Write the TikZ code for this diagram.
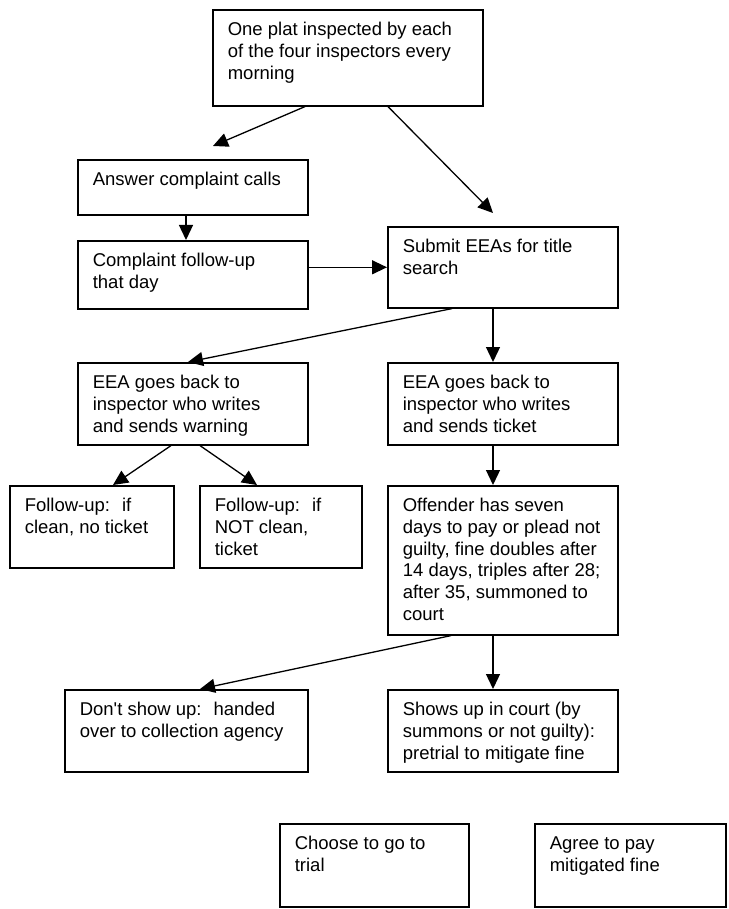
\documentclass[tikz,border=0pt]{standalone}
\usepackage{fontspec}
\setmainfont{Liberation Sans}
\usetikzlibrary{arrows.meta}
\newcommand{\flowtext}[3]{\parbox[t][#2pt][t]{#1pt}{\leftskip=15pt\rightskip=0pt plus 1fil\parindent=0pt\rule{0pt}{26pt}#3}}
\tikzset{
  flowbox/.style={draw, line width=1.6pt, anchor=north west, inner sep=0pt, font=\fontsize{18.5pt}{21.7pt}\selectfont},
  flowarrow/.style={line width=1.3pt, -{Triangle[length=15pt,width=14pt]}}
}
\begin{document}
\begin{tikzpicture}[x=1pt,y=-1pt]
\useasboundingbox (0,0) rectangle (728,909);
\node[flowbox] (plat) at (212,9) {\flowtext{270}{96}{One plat inspected by each\\of the four inspectors every\\morning}};
\node[flowbox] (calls) at (77,159) {\flowtext{230}{55}{Answer complaint calls}};
\node[flowbox] (followup) at (77,240) {\flowtext{230}{68}{Complaint follow-up\\that day}};
\node[flowbox] (submit) at (387,226) {\flowtext{230}{81}{Submit EEAs for title\\search}};
\node[flowbox] (warning) at (77,362) {\flowtext{230}{82}{EEA goes back to\\inspector who writes\\and sends warning}};
\node[flowbox] (ticket) at (387,362) {\flowtext{230}{82}{EEA goes back to\\inspector who writes\\and sends ticket}};
\node[flowbox] (clean) at (9,485) {\flowtext{164}{82}{Follow-up:~ if\\clean, no ticket}};
\node[flowbox] (notclean) at (199,485) {\flowtext{162}{82}{Follow-up:~ if\\NOT clean,\\ticket}};
\node[flowbox] (offender) at (387,485) {\flowtext{230}{149}{Offender has seven\\days to pay or plead not\\guilty, fine doubles after\\14 days, triples after 28;\\after 35, summoned to\\court}};
\node[flowbox] (noshow) at (64,689) {\flowtext{243}{82}{Don\textquotesingle t show up:~ handed\\over to collection agency}};
\node[flowbox] (court) at (387,689) {\flowtext{230}{82}{Shows up in court (by\\summons or not guilty):\\pretrial to mitigate fine}};
\node[flowbox] (trial) at (279,823) {\flowtext{189}{83}{Choose to go to\\trial}};
\node[flowbox] (pay) at (534,823) {\flowtext{191}{83}{Agree to pay\\mitigated fine}};
\coordinate (callsin) at (213,146);
\coordinate (submitin) at (493,213);
\draw[flowarrow] ([xshift=93pt]plat.south west) -- (callsin);
\draw[flowarrow] ([xshift=176pt]plat.south west) -- (submitin);
\draw[flowarrow] ([xshift=109pt]calls.south west) -- ([xshift=109pt]followup.north west);
\draw[flowarrow] (followup.east |- submit.west) -- (submit.west);
\draw[flowarrow] ([xshift=65pt]submit.south west) -- ([xshift=111pt]warning.north west);
\draw[flowarrow] ([xshift=106pt]submit.south west) -- ([xshift=106pt]ticket.north west);
\draw[flowarrow] ([xshift=94pt]warning.south west) -- ([xshift=104pt]clean.north west);
\draw[flowarrow] ([xshift=123pt]warning.south west) -- ([xshift=58pt]notclean.north west);
\draw[flowarrow] ([xshift=106pt]ticket.south west) -- ([xshift=106pt]offender.north west);
\draw[flowarrow] ([xshift=64pt]offender.south west) -- ([xshift=136pt]noshow.north west);
\draw[flowarrow] ([xshift=106pt]offender.south west) -- ([xshift=106pt]court.north west);
\end{tikzpicture}
\end{document}
